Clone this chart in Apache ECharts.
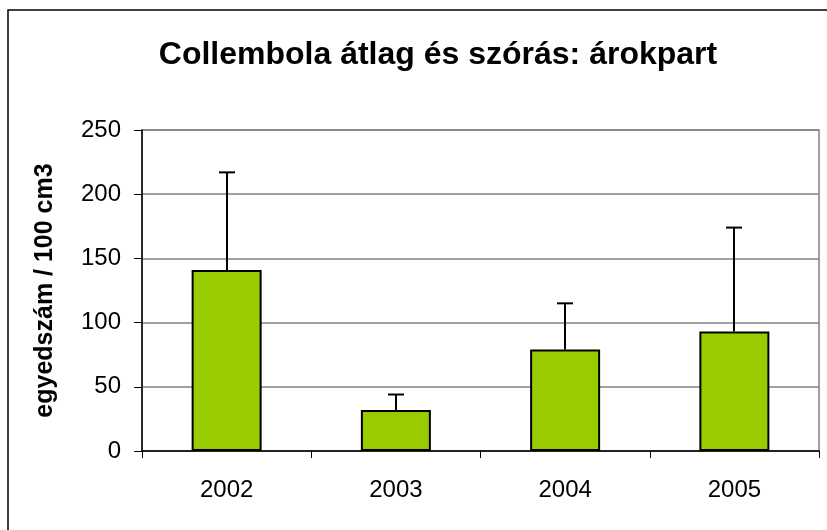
<!DOCTYPE html>
<html>
<head>
<meta charset="utf-8">
<script src="https://cdn.jsdelivr.net/npm/echarts@6/dist/echarts.min.js"></script>
<style>
  html, body { margin: 0; padding: 0; background: #fff; }
  #chart { width: 827px; height: 530px; }
</style>
</head>
<body>
<div id="chart"></div>
<script>
    var years = ['2002', '2003', '2004', '2005'];
    var means = [141, 32, 79, 93];
    var sds = [76, 12, 36, 81];
    var yTicks = [0, 50, 100, 150, 200, 250];

    var chart = echarts.init(document.getElementById('chart'));
    var font = '"Liberation Sans", Arial, sans-serif';

    var errData = years.map(function (y, i) {
        return [i, means[i], means[i] + sds[i]];
    });

    var option = {
        animation: false,
        backgroundColor: '#fff',
        title: {
            text: 'Collembola átlag és szórás: árokpart',
            left: 433,
            textAlign: 'center',
            top: 34,
            textStyle: {fontFamily: font, fontSize: 32, fontWeight: 'bold', color: '#000'}
        },
        graphic: [{
            type: 'rect',
            shape: {x: 8, y: 10, width: 840, height: 540},
            style: {fill: null, stroke: '#000', lineWidth: 1.5},
            silent: true
        }, {
            type: 'rect',
            shape: {x: 142, y: 130, width: 677, height: 321},
            style: {fill: null, stroke: '#808080', lineWidth: 1.5},
            silent: true,
            z: 0
        }],
        grid: {left: 142, right: 8, top: 130, bottom: 79},
        xAxis: {
            type: 'category',
            data: years,
            axisLine: {lineStyle: {color: '#000', width: 1.5}},
            axisTick: {show: true, length: 7, lineStyle: {color: '#000'}},
            axisLabel: {fontFamily: font, fontSize: 24, color: '#000', margin: 27}
        },
        yAxis: {
            type: 'value',
            min: yTicks[0],
            max: yTicks[yTicks.length - 1],
            interval: 50,
            name: 'egyedszám / 100 cm3',
            nameLocation: 'middle',
            nameGap: 84,
            nameTextStyle: {fontFamily: font, fontSize: 25, fontWeight: 'bold', color: '#000'},
            axisLine: {show: true, lineStyle: {color: '#000', width: 1.5}},
            axisTick: {show: true, length: 8, lineStyle: {color: '#000'}},
            axisLabel: {fontFamily: font, fontSize: 24, color: '#000', margin: 21},
            splitLine: {lineStyle: {color: '#808080', width: 1.5}}
        },
        series: [{
            type: 'bar',
            data: means,
            barWidth: 70,
            itemStyle: {color: '#99CC00', borderColor: '#000', borderWidth: 2}
        }, {
            type: 'custom',
            data: errData,
            z: 3,
            renderItem: function (params, api) {
                var base = api.coord([api.value(0), api.value(1)]);
                var top = api.coord([api.value(0), api.value(2)]);
                var x = Math.round(base[0]);
                return {
                    type: 'group',
                    children: [{
                        type: 'line',
                        shape: {x1: x, y1: base[1], x2: x, y2: top[1]},
                        style: {stroke: '#000', lineWidth: 2}
                    }, {
                        type: 'line',
                        shape: {x1: x - 8, y1: top[1], x2: x + 8, y2: top[1]},
                        style: {stroke: '#000', lineWidth: 2}
                    }]
                };
            }
        }]
    };
    chart.setOption(option);
</script>
</body>
</html>
